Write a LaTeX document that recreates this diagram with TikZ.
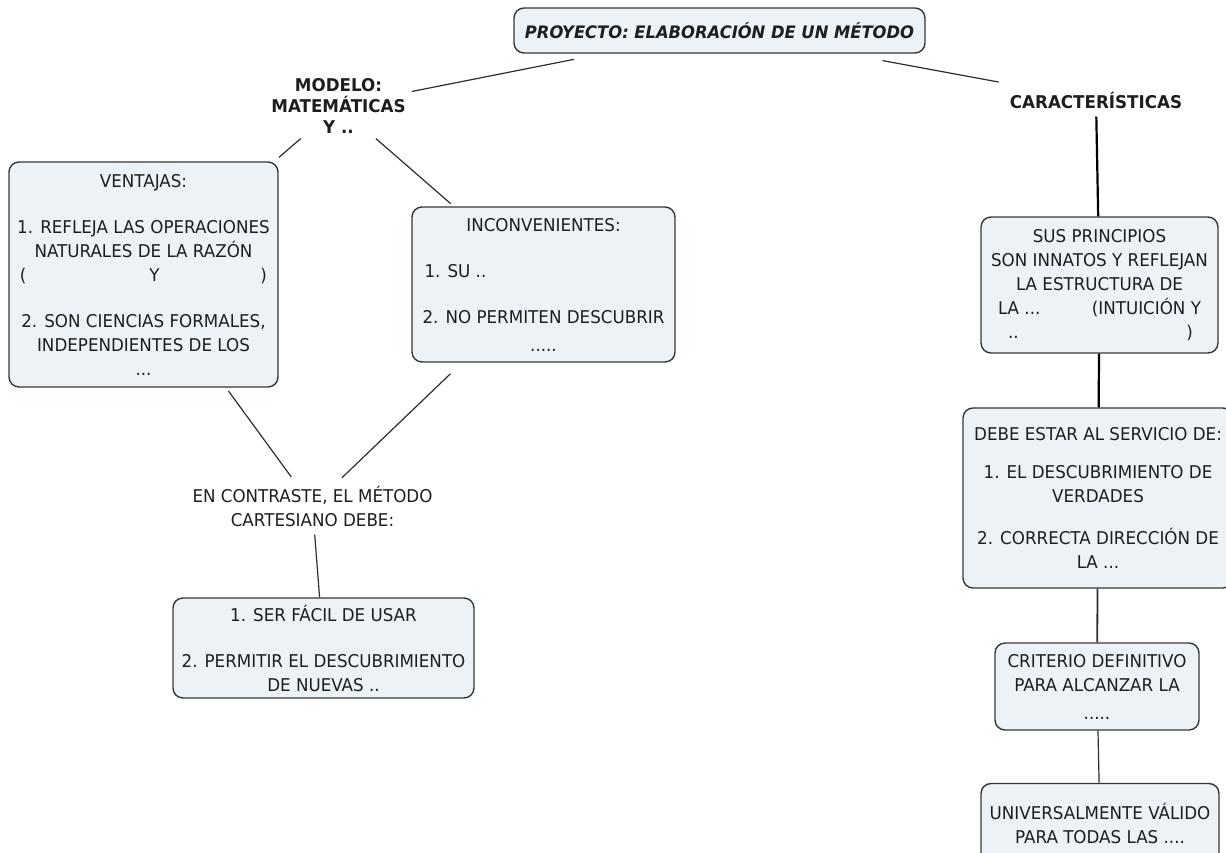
\documentclass[tikz,border=0pt]{standalone}
\usepackage{fontspec}
\setmainfont{DejaVu Sans}[FakeStretch=0.95]
\definecolor{boxfill}{RGB}{236,242,245}
\definecolor{boxline}{RGB}{55,55,55}
\definecolor{linkgray}{RGB}{45,45,45}
\definecolor{inkgray}{RGB}{30,30,30}

\begin{document}
\begin{tikzpicture}[x=0.5pt, y=-0.5pt,
    every node/.style={font=\fontsize{8.8}{12}\selectfont, text=inkgray},
    box/.style={draw=boxline, fill=boxfill, rounded corners=5pt, line width=0.7pt, align=center, inner sep=0pt},
    concept/.style={font=\bfseries\fontsize{8.8}{10.5}\selectfont, align=center, inner sep=1pt},
    plaintext/.style={align=center, inner sep=1pt},
    link/.style={draw=linkgray, line width=0.6pt},
    thicklink/.style={draw=black, line width=1.1pt}]
    \useasboundingbox (0,0) rectangle (1226,852);

    % Nodes
    \node[box, minimum width=205.5pt, minimum height=22.5pt, font=\bfseries\itshape\fontsize{8.6}{10}\selectfont] (proyecto) at (719.5,30.5) {PROYECTO: ELABORACIÓN DE UN MÉTODO};
    \node[concept] (modelo) at (338.5,106) {MODELO:\\MATEMÁTICAS\\Y ..};
    \node[concept] (caracteristicas) at (1096,100) {CARACTERÍSTICAS};

    \node[box, minimum width=134.5pt, minimum height=112.5pt] (ventajas) at (143.5,274.5) {VENTAJAS:\\[11pt]
        1. REFLEJA LAS OPERACIONES\\
        NATURALES DE LA RAZÓN\\
        \makebox[123.5pt]{(\hfill\hspace{11pt}Y\hfill)}\\[11pt]
        2. SON CIENCIAS FORMALES,\\
        INDEPENDIENTES DE LOS\\
        ...};
    \node[box, minimum width=131.5pt, minimum height=77.5pt] (inconvenientes) at (543.5,284.5) {INCONVENIENTES:\\[11pt]
        \makebox[119pt][l]{1. SU ..}\\[11pt]
        2. NO PERMITEN DESCUBRIR\\[2pt]
        .....};
    \node[plaintext] (contraste) at (312.5,506) {EN CONTRASTE, EL MÉTODO\\CARTESIANO DEBE:};
    \node[box, minimum width=150.5pt, minimum height=50pt] (cartesiano) at (323.5,648) {1. SER FÁCIL DE USAR\\[11pt]
        2. PERMITIR EL DESCUBRIMIENTO\\
        DE NUEVAS ..};

    \node[box, minimum width=118.5pt, minimum height=68pt] (principios) at (1099.5,285) {SUS PRINCIPIOS\\
        SON INNATOS Y REFLEJAN\\
        LA ESTRUCTURA DE\\
        \makebox[101.5pt]{LA ...\hfill(INTUICIÓN Y}\\
        \makebox[101.5pt]{\hspace{5pt}..\hfill)\hspace{4pt}}};
    \node[box, minimum width=135pt, minimum height=90pt] (servicio) at (1098,498) {DEBE ESTAR AL SERVICIO DE:\\[7pt]
        1. EL DESCUBRIMIENTO DE\\
        VERDADES\\[9pt]
        2. CORRECTA DIRECCIÓN DE\\
        LA ...};
    \node[box, minimum width=102pt, minimum height=43.5pt] (criterio) at (1097,686.5) {CRITERIO DEFINITIVO\\
        PARA ALCANZAR LA\\[2pt]
        .....};
    \node[box, minimum width=119pt, minimum height=40pt] (universal) at (1100,823.5) {UNIVERSALMENTE VÁLIDO\\
        PARA TODAS LAS ....};

    % Links
    \draw[link, shorten <=14.5pt, shorten >=2pt] (proyecto) -- (modelo);
    \draw[link, shorten <=19pt, shorten >=20pt] (proyecto) -- (caracteristicas);
    \draw[link, shorten <=2pt, shorten >=3pt] (modelo) -- (ventajas);
    \draw[link, shorten <=2pt, shorten >=2pt] (modelo) -- (inconvenientes);
    \draw[link, shorten <=2pt, shorten >=4pt] (ventajas) -- (contraste);
    \draw[link, shorten <=8pt, shorten >=4pt] (inconvenientes) -- (contraste);
    \draw[link, shorten <=3pt] (contraste) -- (cartesiano);
    \draw[thicklink, shorten <=3pt] (caracteristicas) -- (principios);
    \draw[thicklink] (principios) -- (servicio);
    \draw[link, line width=0.9pt] (servicio) -- (criterio);
    \draw[link] (criterio) -- (universal);
\end{tikzpicture}
\end{document}
